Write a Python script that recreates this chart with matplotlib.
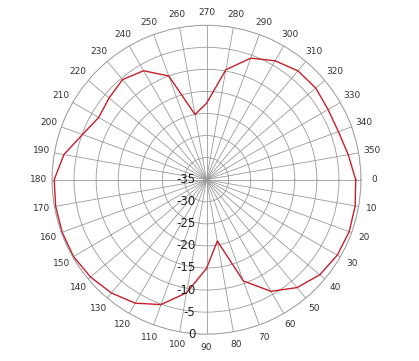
import matplotlib
matplotlib.use("Agg")
import matplotlib.pyplot as plt
import numpy as np

# Radiation pattern, gain in dB every 10 degrees
angles_deg = list(range(0, 360, 10))
gain_db = [
    -1.2, -0.8, -0.6, -0.8, -1.5, -3.1, -5.8, -10.6, -20.9, -14.9,
    -9.0, -4.9, -2.7, -1.5, -0.7, -0.2, -0.2, -0.3, -0.5, -2.2,
    -5.1, -6.8, -6.2, -5.4, -6.5, -10.0, -20.0, -17.7, -9.7, -5.7,
    -3.9, -2.8, -2.7, -3.2, -3.2, -2.4,
]
r_ticks = [-35, -30, -25, -20, -15, -10, -5, 0]
theta_labels = [str(a) for a in angles_deg]

theta = np.deg2rad(angles_deg + [angles_deg[0]])
r = np.array(gain_db + [gain_db[0]])

fig = plt.figure(figsize=(4.19, 3.61), dpi=100)
ax = fig.add_axes([0.1241, 0.0742, 0.7375, 0.856], projection="polar")
ax.set_theta_zero_location("E")
ax.set_theta_direction(-1)
ax.set_rlim(r_ticks[0], r_ticks[-1])

ax.set_thetagrids(angles_deg, theta_labels, fontsize=6.5, color="#333333")
ax.tick_params(axis="x", pad=-1)
ax.set_rticks(r_ticks)
ax.set_yticklabels([])
ax.grid(True, color="#9a9a9a", linewidth=0.6)
ax.spines["polar"].set_color("#9a9a9a")
ax.spines["polar"].set_linewidth(0.6)

ax.plot(theta, r, color="#c81e2a", linewidth=1.0)

# radial labels along the downward spoke
for v in r_ticks:
    ax.annotate(
        f"{v}",
        xy=(np.deg2rad(90), v),
        xytext=(-8, 0),
        textcoords="offset points",
        ha="right",
        va="center",
        fontsize=8.5,
        color="#222222",
    )

fig.savefig("out.png", dpi=100)
